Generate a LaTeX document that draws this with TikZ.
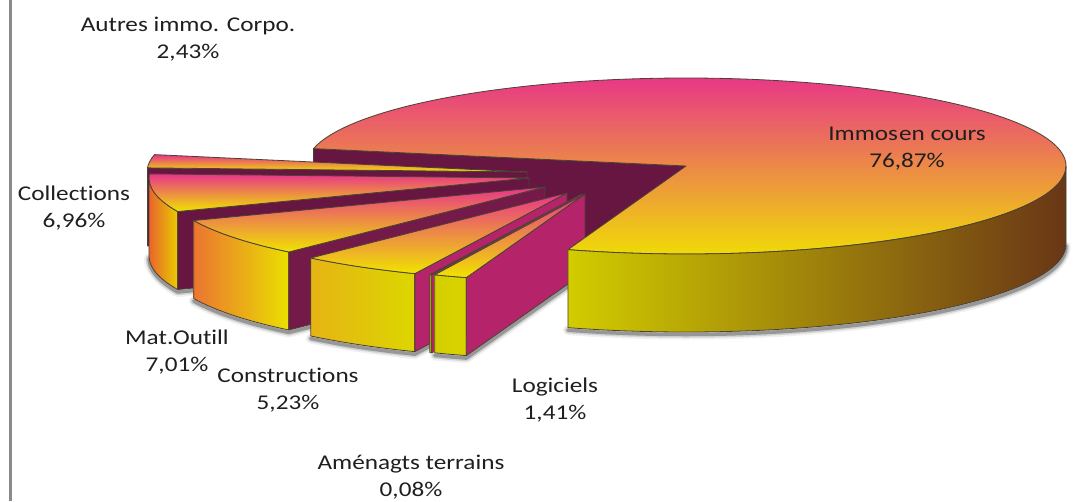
\documentclass[tikz,border=0pt]{standalone}
\usepackage{fontspec}
\setmainfont[FakeStretch=1.2, Ligatures=NoCommon]{Carlito}
\definecolor{edgecol}{HTML}{4A4232}
\definecolor{topPink}{HTML}{E8338A}
\definecolor{topOrange}{HTML}{EA5C34}
\definecolor{topYellow}{HTML}{F0E400}
\definecolor{cutDark}{HTML}{661641}
\definecolor{cutMid}{HTML}{741A49}
\definecolor{cutMag}{HTML}{B5236A}
\definecolor{frameGray}{HTML}{8A8A8A}
\definecolor{mainLeft}{HTML}{D2CC00}
\definecolor{mainMid}{HTML}{726200}
\definecolor{mainRight}{HTML}{693616}
\newcommand\PieRX{380}
\newcommand\PieRY{88}
\newcommand\PieDepth{78}
\tikzset{
  pieface/.style={draw=edgecol, line width=0.8pt, line join=round},
  topface/.style={pieface, top color=topPink, middle color=topOrange, bottom color=topYellow},
  lbl/.style={align=center, font=\fontsize{21}{27}\selectfont, text=black!88, inner sep=0pt},
  shadowline/.style={black, line cap=round, line join=round},
}
% shadow under a slice: #1 apex x, #2 apex y, #3 first visible side angle, #4 end angle
\newcommand\SliceShadow[4]{%
  \foreach \w/\o in {10/0.06,6.5/0.12,3.5/0.28}{%
    \draw[shadowline, line width=\w pt, opacity=\o, shift={(0,2.5)}]
      ({#1+\PieRX*cos(#3)},{#2-\PieRY*sin(#3)+\PieDepth})
      arc[start angle=#3, end angle=#4, x radius=\PieRX pt, y radius=\PieRY pt]
      -- ({#1},{#2+\PieDepth});
  }%
}
% cut face at the end angle: #1 ax, #2 ay, #3 angle, #4 colour
\newcommand\SliceEnd[4]{%
  \filldraw[pieface, fill=#4] ({#1},{#2}) -- ({#1+\PieRX*cos(#3)},{#2-\PieRY*sin(#3)})
    -- ++(0,\PieDepth) -- ({#1},{#2+\PieDepth}) -- cycle;}
% outer side: #1 ax, #2 ay, #3 from, #4 to, #5 left colour, #6 right colour
\newcommand\SliceSide[6]{%
  \shadedraw[pieface, left color=#5, right color=#6]
    ({#1+\PieRX*cos(#3)},{#2-\PieRY*sin(#3)})
    arc[start angle=#3, end angle=#4, x radius=\PieRX pt, y radius=\PieRY pt]
    -- ++(0,\PieDepth)
    arc[start angle=#4, end angle=#3, x radius=\PieRX pt, y radius=\PieRY pt] -- cycle;}
% top face: #1 ax, #2 ay, #3 from, #4 to
\newcommand\SliceTop[4]{%
  \shadedraw[topface] ({#1},{#2}) -- ({#1+\PieRX*cos(#3)},{#2-\PieRY*sin(#3)})
    arc[start angle=#3, end angle=#4, x radius=\PieRX pt, y radius=\PieRY pt] -- cycle;}
\definecolor{sColA}{HTML}{E8642C}
\definecolor{sColB}{HTML}{E8CC00}
\definecolor{sMatA}{HTML}{EB7530}
\definecolor{sMatB}{HTML}{EAE000}
\definecolor{sConA}{HTML}{E6B414}
\definecolor{sConB}{HTML}{DCD600}
\definecolor{sAmen}{HTML}{D8D000}
\definecolor{sLogA}{HTML}{D6CE00}
\definecolor{sLogB}{HTML}{D8D400}
\begin{document}
\begin{tikzpicture}[x=1pt, y=-1pt]
\useasboundingbox (0,0) rectangle (1073,501);
\fill[white] (0,0) rectangle (1073,501);
\draw[frameGray, line width=2.5pt] (10.5,0) -- (10.5,501);

% shadows
\SliceShadow{686}{166}{251.9}{360}
\SliceShadow{529}{178}{180}{202.4}
\SliceShadow{545}{187}{202.4}{227.6}
\SliceShadow{567}{193}{227.6}{246.4}
\SliceShadow{585}{194}{246.7}{251.8}

% main slice: visible cut face (behind the exploded slices)
\SliceEnd{686}{166}{168.6}{cutDark}

% Autres immo. Corpo.
\SliceEnd{527}{172}{177.3}{cutDark}
\SliceTop{527}{172}{168.6}{177.3}
% Collections
\SliceSide{529}{178}{180}{202.4}{sColA}{sColB}
\SliceEnd{529}{178}{202.4}{cutDark}
\SliceTop{529}{178}{177.3}{202.4}
% Mat.Outill
\SliceSide{545}{187}{202.4}{227.6}{sMatA}{sMatB}
\SliceEnd{545}{187}{227.6}{cutMid}
\SliceTop{545}{187}{202.4}{227.6}
% Constructions
\SliceSide{567}{193}{227.6}{246.4}{sConA}{sConB}
\SliceEnd{567}{193}{246.4}{cutMag}
\SliceTop{567}{193}{227.6}{246.4}
% Amenagts terrains
\SliceSide{582}{194}{246.4}{246.7}{sAmen}{sAmen}
\SliceEnd{582}{194}{246.7}{cutMag}
\SliceTop{582}{194}{246.4}{246.7}
% Logiciels
\SliceSide{585}{194}{246.7}{251.8}{sLogA}{sLogB}
\SliceEnd{585}{194}{251.8}{cutMag}
\SliceTop{585}{194}{246.7}{251.8}

% main slice: top and front side
\SliceTop{686}{166}{251.9}{528.6}
\shadedraw[pieface, left color=mainLeft, middle color=mainMid, right color=mainRight]
  ({686+\PieRX*cos(251.9)},{166-\PieRY*sin(251.9)})
  arc[start angle=251.9, end angle=360, x radius=\PieRX pt, y radius=\PieRY pt]
  -- ++(0,\PieDepth)
  arc[start angle=360, end angle=251.9, x radius=\PieRX pt, y radius=\PieRY pt] -- cycle;

% labels
\node[lbl] (lAutres) at (188,39) {Autres immo. Corpo.\\2,43\%};
\node[lbl] (lColl) at (74,208) {Collections\\6,96\%};
\node[lbl] (lMat) at (177,352) {Mat.Outill\\7,01\%};
\node[lbl] (lConstr) at (288,390) {Constructions\\5,23\%};
\node[lbl] (lLog) at (555,400) {Logiciels\\1,41\%};
\node[lbl] (lAmen) at (411,477) {Aménagts terrains\\0,08\%};
\node[lbl] (lImmos) at (907,149) {Immos\kern1pt en cours\\76,87\%};
\end{tikzpicture}
\end{document}
